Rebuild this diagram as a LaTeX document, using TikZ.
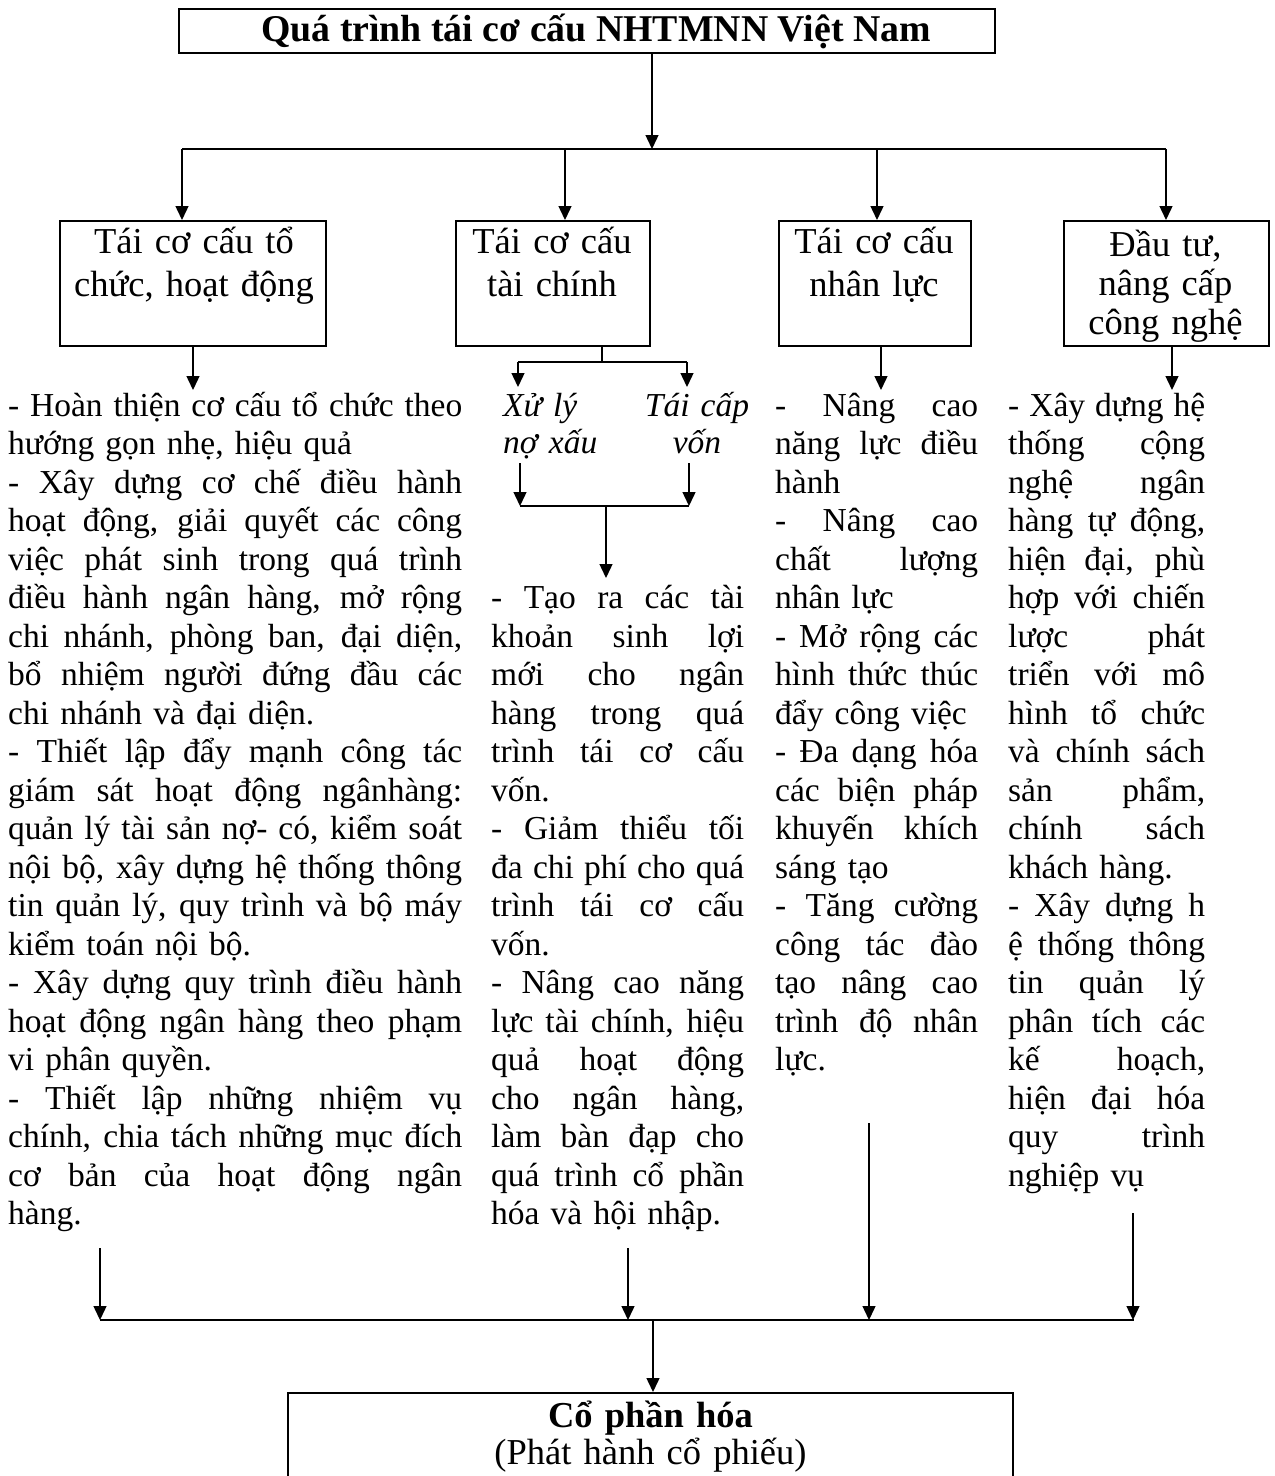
\documentclass[tikz,border=0pt]{standalone}
\usepackage{fontspec}
\setmainfont{Liberation Serif}
\usetikzlibrary{arrows.meta}

% one justified line of a column; \colw holds the width of the column in force
\newlength{\colw}
\newcommand{\jl}[1]{\makebox[\colw][s]{\spaceskip=0.25em plus 20em minus 0.08em\relax #1}\\}

\tikzset{
  conn/.style={line width=1.4pt, -{Triangle[length=14pt,width=13pt]}},
  plain/.style={line width=1.4pt},
  boxframe/.style={draw, line width=2pt, inner sep=0pt},
  body/.style={inner sep=0pt, anchor=base west, align=left,
    font=\fontsize{33.5}{38.5}\selectfont},
  column/.style={inner sep=0pt, anchor=base west, text width=#1,
    font=\fontsize{33.5}{38.5}\selectfont},
  boxlabel/.style={inner sep=0pt, anchor=base, align=center,
    font=\fontsize{36.5}{43}\selectfont},
}

\begin{document}
\begin{tikzpicture}[x=1pt, y=-1pt]
\useasboundingbox (0,0) rectangle (1275,1476);
\fill[white] (0,0) rectangle (1275,1476);
\clip (0,0) rectangle (1275,1476);

% title
\node[boxframe, line width=2.4pt, minimum width=816pt, minimum height=44pt,
  font=\bfseries\fontsize{37.8}{44}\selectfont] (title) at (587,31)
  {\hspace*{18pt}Quá trình tái cơ cấu NHTMNN Việt Nam};

% four branch boxes
\node[boxframe, minimum width=266pt, minimum height=125pt, anchor=north west] (b1) at (59,220) {};
\node[boxframe, minimum width=194pt, minimum height=125pt, anchor=north west] (b2) at (455,220) {};
\node[boxframe, minimum width=192pt, minimum height=125pt, anchor=north west] (b3) at (778,220) {};
\node[boxframe, minimum width=205pt, minimum height=125pt, anchor=north west] (b4) at (1063,220) {};

\node[boxlabel, text width=260pt] (l1) at (194,253) {Tái cơ cấu tổ\\chức, hoạt động};
\node[boxlabel, text width=190pt] (l2) at (552,253) {Tái cơ cấu\\tài chính};
\node[boxlabel, text width=190pt] (l3) at (874,253) {Tái cơ cấu\\nhân lực};
\node[boxlabel, text width=200pt, font=\fontsize{36.5}{39}\selectfont] (l4) at (1165.5,256)
  {Đầu tư,\\nâng cấp\\công nghệ};

% top distribution bus
\coordinate (tin) at (652,0);
\coordinate (busL) at (182,149);
\coordinate (busR) at (1166,149);
\coordinate (d2) at (565,149);
\coordinate (d3) at (877,149);
\draw[conn] (title.south -| tin) -- (tin |- busL);
\draw[plain] (busL) -- (busR);
\draw[conn] (busL) -- (busL |- b1.north);
\draw[conn] (d2) -- (d2 |- b2.north);
\draw[conn] (d3) -- (d3 |- b3.north);
\draw[conn] (busR) -- (busR |- b4.north);

% arrows below the boxes
\coordinate (t1) at (193,390);
\coordinate (t3) at (881,390);
\coordinate (t4) at (1172,390);
\draw[conn] (b1.south -| t1) -- (t1);
\draw[conn] (b3.south -| t3) -- (t3);
\draw[conn] (b4.south -| t4) -- (t4);

% financial restructuring split
\coordinate (s0) at (602,362);
\coordinate (sL) at (518,362);
\coordinate (sR) at (687,362);
\coordinate (sLt) at (518,387);
\coordinate (sRt) at (687,387);
\draw[plain] (b2.south -| s0) -- (s0);
\draw[plain] (sL) -- (sR);
\draw[conn] (sL) -- (sLt);
\draw[conn] (sR) -- (sRt);

\node[body, text width=110pt, font=\itshape\fontsize{33.5}{37}\selectfont] (xl) at (503,416) {Xử lý\\nợ xấu};
\node[boxlabel, text width=110pt, font=\itshape\fontsize{33.5}{37}\selectfont] (tc) at (697,416) {Tái cấp\\vốn};

\coordinate (jL) at (520,463);
\coordinate (jR) at (689,463);
\coordinate (jLb) at (520,506);
\coordinate (jRb) at (689,506);
\coordinate (jm) at (606,506);
\coordinate (jmt) at (606,578);
\draw[conn] (jL) -- (jLb);
\draw[conn] (jR) -- (jRb);
\draw[plain] (jLb) -- (jRb);
\draw[conn] (jm) -- (jmt);

% column texts
\node[column=454pt] (c1) at (8,416) {\setlength{\colw}{454pt}%
\jl{- Hoàn thiện cơ cấu tổ chức theo}
hướng gọn nhẹ, hiệu quả\\
\jl{-  Xây dựng cơ chế điều hành}
\jl{hoạt động, giải quyết các công}
\jl{việc phát sinh trong quá trình}
\jl{điều hành ngân hàng, mở rộng}
\jl{chi nhánh, phòng ban, đại diện,}
\jl{bổ nhiệm người đứng đầu các}
chi nhánh và đại diện.\\
\jl{- Thiết lập đẩy mạnh công tác}
\jl{giám sát hoạt động ngânhàng:}
\jl{quản lý tài sản nợ- có, kiểm soát}
\jl{nội bộ, xây dựng hệ thống thông}
\jl{tin quản lý, quy trình và bộ máy}
kiểm toán nội bộ.\\
\jl{- Xây dựng quy trình điều hành}
\jl{hoạt động ngân hàng theo phạm}
vi phân quyền.\\
\jl{- Thiết lập những nhiệm vụ}
\jl{chính, chia tách những mục đích}
\jl{cơ bản của hoạt động ngân}
hàng.};

\node[column=253pt] (c2) at (491,608.5) {\setlength{\colw}{253pt}%
\jl{- Tạo ra các tài}
\jl{khoản sinh lợi}
\jl{mới cho ngân}
\jl{hàng trong quá}
\jl{trình tái cơ cấu}
vốn.\\
\jl{- Giảm thiểu tối}
\jl{đa chi phí cho quá}
\jl{trình tái cơ cấu}
vốn.\\
\jl{- Nâng cao năng}
\jl{lực tài chính, hiệu}
\jl{quả hoạt động}
\jl{cho ngân hàng,}
\jl{làm bàn đạp cho}
\jl{quá trình cổ phần}
hóa và hội nhập.};

\node[column=203pt] (c3) at (775,416) {\setlength{\colw}{203pt}%
\jl{- Nâng cao}
\jl{năng lực điều}
hành\\
\jl{- Nâng cao}
\jl{chất lượng}
nhân lực\\
\jl{- Mở rộng các}
\jl{hình thức thúc}
đẩy công việc\\
\jl{- Đa dạng hóa}
\jl{các biện pháp}
\jl{khuyến khích}
sáng tạo\\
\jl{- Tăng cường}
\jl{công tác đào}
\jl{tạo nâng cao}
\jl{trình độ nhân}
lực.};

\node[column=197pt] (c4) at (1008,416) {\setlength{\colw}{197pt}%
\jl{- Xây dựng hệ}
\jl{thống cộng}
\jl{nghệ ngân}
\jl{hàng tự động,}
\jl{hiện đại, phù}
\jl{hợp với chiến}
\jl{lược phát}
\jl{triển với mô}
\jl{hình tổ chức}
\jl{và chính sách}
\jl{sản phẩm,}
\jl{chính sách}
khách hàng.\\
\jl{- Xây dựng h}
\jl{ệ thống thông}
\jl{tin quản lý}
\jl{phân tích các}
\jl{kế hoạch,}
\jl{hiện đại hóa}
\jl{quy trình}
nghiệp vụ};

% bottom collecting bus
\coordinate (a1) at (100,1248);
\coordinate (a2) at (628,1248);
\coordinate (a3) at (869,1123);
\coordinate (a4) at (1133,1213);
\coordinate (bbL) at (100,1320);
\coordinate (bbR) at (1134,1320);
\coordinate (cin) at (653,1320);
\draw[plain, line width=2pt] (bbL) -- (bbR);
\draw[conn] (a1) -- (a1 |- bbL);
\draw[conn] (a2) -- (a2 |- bbL);
\draw[conn] (a3) -- (a3 |- bbL);
\draw[conn] (a4) -- (a4 |- bbL);

% final box
\node[boxframe, minimum width=725pt, minimum height=130pt, anchor=north] (cp) at (650.5,1392) {};
\draw[conn] (cin) -- (cin |- cp.north);
\node[boxlabel, text width=700pt, font=\fontsize{36.5}{37}\selectfont] (cpl) at (650.5,1427)
  {\textbf{Cổ phần hóa}\\(Phát hành cổ phiếu)};
\end{tikzpicture}
\end{document}
